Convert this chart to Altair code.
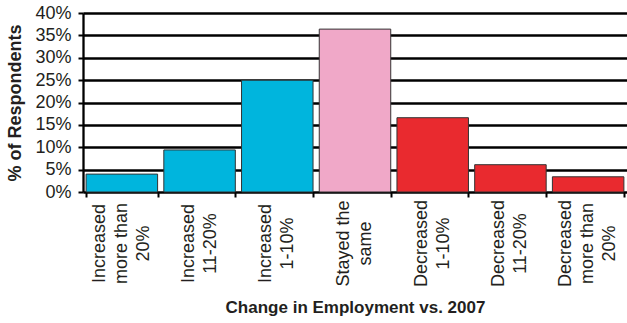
import altair as alt
import pandas as pd

categories = [
    "Increased|more than|20%",
    "Increased|11-20%",
    "Increased|1-10%",
    "Stayed the|same",
    "Decreased|1-10%",
    "Decreased|11-20%",
    "Decreased|more than|20%",
]
values = [4.0, 9.4, 25.0, 36.4, 16.6, 6.1, 3.4]
groups = ["Increased", "Increased", "Increased", "Same", "Decreased", "Decreased", "Decreased"]
group_names = ["Increased", "Same", "Decreased"]
group_colors = ["#00B5DD", "#F0A8C8", "#E92A2F"]
y_ticks = [0, 5, 10, 15, 20, 25, 30, 35, 40]

df = pd.DataFrame({"category": categories, "value": values, "group": groups})

FONT = "Liberation Sans"
TXT = "#231F20"
LINE_H = 22

x_scale = alt.Scale(paddingInner=0.08, paddingOuter=0.04)
y_scale = alt.Scale(domain=[0, 40], nice=False)

y_enc = alt.Y(
    "value:Q",
    scale=y_scale,
    axis=alt.Axis(
        title="% of Respondents",
        titleFont=FONT,
        titleFontSize=18,
        titleFontWeight="bold",
        titleColor=TXT,
        titlePadding=10,
        values=y_ticks,
        labelExpr="datum.value + '%'",
        labelFont=FONT,
        labelFontSize=18,
        labelColor=TXT,
        labelPadding=7,
        tickSize=5,
        tickWidth=2,
        tickColor="#000000",
        domainColor="#000000",
        domainWidth=2.3,
        grid=True,
        gridColor="#000000",
        gridWidth=2.3,
        gridOpacity=1,
    ),
)

bars = alt.Chart(df).mark_bar(stroke="#333333", strokeWidth=1).encode(
    x=alt.X(
        "category:N",
        sort=categories,
        scale=x_scale,
        axis=alt.Axis(
            orient="bottom",
            title="Change in Employment vs. 2007",
            titleFont=FONT,
            titleFontSize=17,
            titleFontWeight="bold",
            titleColor=TXT,
            titlePadding=13,
            labelExpr="split(datum.value, '|')",
            labelAngle=270,
            labelAlign="center",
            labelBaseline="middle",
            labelPadding=51,
            labelOffset={
                "condition": {"test": "length(split(datum.value, '|')) > 2", "value": -LINE_H},
                "value": -LINE_H / 2,
            },
            labelFont=FONT,
            labelFontSize=18,
            labelLineHeight=LINE_H,
            labelColor=TXT,
            labelOverlap=False,
            labelLimit=0,
            ticks=False,
            domain=False,
            grid=False,
        ),
    ),
    y=y_enc,
    color=alt.Color(
        "group:N",
        scale=alt.Scale(domain=group_names, range=group_colors),
        legend=None,
    ),
)

ticks_layer = alt.Chart(df).mark_bar(opacity=0).encode(
    x=alt.X(
        "category:N",
        sort=categories,
        scale=x_scale,
        axis=alt.Axis(
            orient="bottom",
            title=None,
            labels=False,
            tickBand="extent",
            tickSize=5,
            tickWidth=2,
            tickColor="#000000",
            domain=False,
            grid=False,
        ),
    ),
    y=y_enc,
)

chart = alt.layer(bars, ticks_layer).resolve_axis(x="independent").properties(
    width=544,
    height=179,
    autosize=alt.AutoSizeParams(type="none"),
    padding={"left": 83, "top": 13, "right": 0, "bottom": 131},
).configure_view(stroke=None).configure(background="white")

chart.save("out.html", embed_options={"renderer": "svg", "actions": False})
